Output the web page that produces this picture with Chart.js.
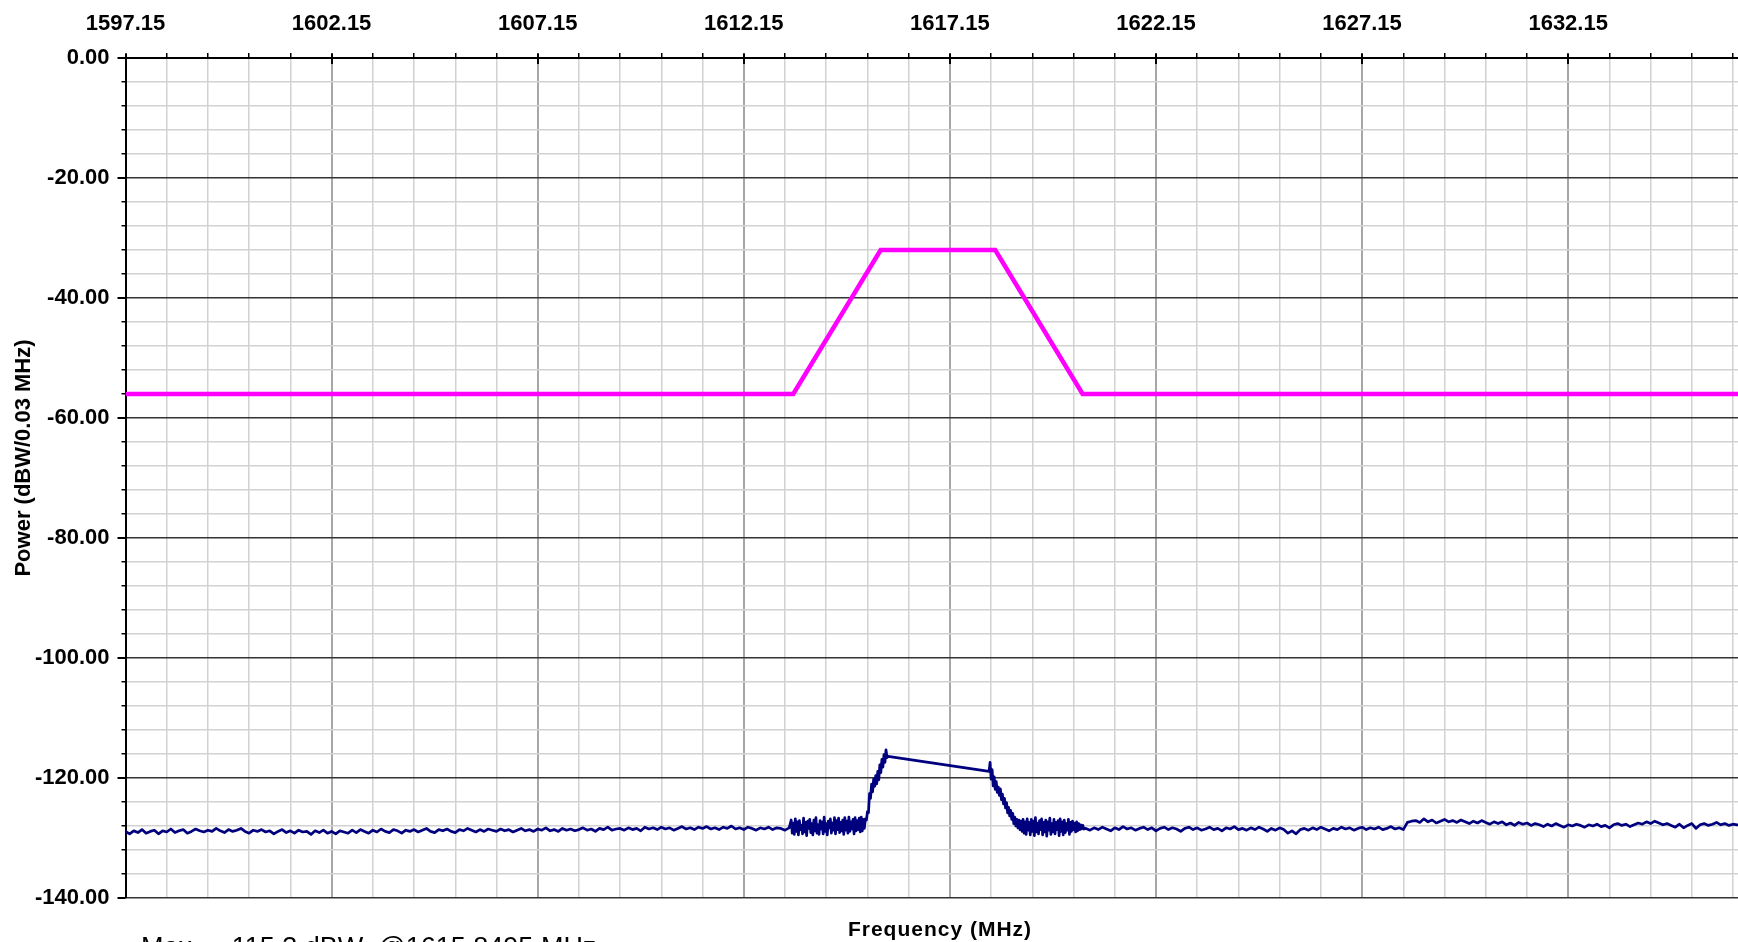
<!DOCTYPE html>
<html>
<head>
<meta charset="utf-8">
<script src="https://cdn.jsdelivr.net/npm/chart.js@4.4.1/dist/chart.umd.min.js"></script>
<style>
  html, body { margin: 0; padding: 0; background: #fff; overflow: hidden; }
  #wrap { width: 1738px; height: 942px; }
</style>
</head>
<body>
<div id="wrap"><canvas id="spectrum" width="1738" height="942"></canvas></div>
<script>
// axis text
const xTickLabels = ['1597.15', '1602.15', '1607.15', '1612.15', '1617.15', '1622.15', '1627.15', '1632.15'];
const yTickLabels = ['0.00', '-20.00', '-40.00', '-60.00', '-80.00', '-100.00', '-120.00', '-140.00'];
const xTitle = 'Frequency (MHz)';
const yTitle = 'Power (dBW/0.03 MHz)';
const peakNote = 'Max = -115.3 dBW  @1615.8495 MHz';
const freqMin = 1597.15;
const freqMax = 1636.27;

// emission mask (magenta)
const maskFreq = [1597.15, 1613.35, 1615.47, 1618.25, 1620.37, 1636.27];
const maskPower = [-56, -56, -32, -32, -56, -56];

const sweepA = { start: 1597.15, step: 0.1 };
const powerA = [
  -128.9, -129.3, -128.8, -129.1, -128.6, -129.2, -128.9, -128.7, -129.3, -128.8,
  -129.0, -128.5, -129.1, -128.8, -128.6, -129.2, -128.9, -128.5, -128.8, -129.0,
  -128.7, -128.9, -128.4, -128.8, -129.1, -128.6, -128.9, -128.7, -128.4, -128.9,
  -129.2, -128.7, -128.9, -128.6, -129.0, -128.8, -129.3, -128.9, -128.6, -129.1,
  -128.8, -129.2, -128.7, -129.0, -128.9, -129.4, -128.8, -129.1, -128.7, -129.2,
  -128.9, -129.3, -128.8, -129.0, -129.2, -128.7, -129.1, -128.6, -128.9, -129.2,
  -128.7, -129.0, -128.5, -128.9, -129.1, -128.6, -128.8, -129.2, -128.7, -128.9,
  -128.6, -129.0, -128.7, -128.4, -128.9, -129.1, -128.6, -128.8, -128.5, -128.9,
  -129.1, -128.6, -128.8, -128.4, -128.7, -129.0, -128.6, -128.9, -128.5, -128.7,
  -128.9, -128.5, -128.8, -128.6, -129.0, -128.7, -128.4, -128.8, -128.6, -128.9,
  -128.5, -128.7, -128.3, -128.8, -128.6, -128.9, -128.4, -128.7, -128.5, -128.8,
  -128.6, -128.3, -128.7, -128.5, -128.9, -128.4, -128.6, -128.2, -128.7, -128.5,
  -128.4, -128.7, -128.3, -128.6, -128.4, -128.8, -128.2, -128.5, -128.3, -128.6,
  -128.2, -128.5, -128.3, -128.7, -128.4, -128.1, -128.5, -128.3, -128.6, -128.2,
  -128.4, -128.1, -128.5, -128.3, -128.6, -128.2, -128.4, -128.0, -128.5, -128.3,
  -128.6, -128.2, -128.4, -128.7, -128.3, -128.5, -128.2, -128.6, -128.3, -128.4,
  -128.7, -128.3
];

const sweepB = { start: 1613.3, step: 0.025 };
const powerB = [
  -127.0, -129.2, -127.5, -129.4, -126.8, -128.9, -127.3, -129.5, -127.1, -128.6,
  -127.9, -129.3, -126.7, -129.0, -127.4, -129.6, -127.2, -128.4, -126.9, -129.1,
  -127.6, -129.5, -127.0, -128.8, -126.6, -129.2, -127.8, -129.4, -127.1, -128.5,
  -127.3, -129.3, -126.5, -128.9, -127.6, -129.5, -127.2, -128.3, -126.8, -129.2,
  -127.5, -128.7, -126.6, -129.3, -127.1, -128.6, -126.7, -129.1, -127.4, -128.8,
  -127.0, -129.4, -126.6, -128.7, -127.2, -129.2, -126.5, -128.9, -127.3, -128.5,
  -126.9, -129.3, -126.6, -128.8, -127.1, -128.6, -126.7, -129.0, -126.5, -128.8,
  -126.9, -128.4, -126.8,
  -127.0, -125.6, -125.8, -122.6, -123.4, -121.0, -122.3, -120.2, -121.4, -119.6,
  -121.0, -118.9, -120.3, -117.8, -119.1, -116.9, -118.2, -116.1, -117.4, -115.3,
  -116.6, -116.4
];

const sweepC = { start: 1618.1, step: 0.025 };
const powerC = [
  -118.9, -117.4, -120.2, -118.6, -121.3, -119.8, -121.9, -120.6, -122.4, -121.5,
  -122.9, -121.8, -123.6, -122.7, -124.3, -123.4, -125.0, -124.1, -125.8, -124.9,
  -126.3, -125.4, -126.9, -125.9, -127.6, -126.5, -128.0, -126.9, -128.3, -127.0,
  -128.6, -127.2, -128.9,
  -126.9, -129.2, -127.3, -129.4, -126.8, -128.7, -127.4, -129.5, -126.9, -128.9,
  -127.2, -129.6, -126.6, -129.0, -127.5, -129.3, -127.1, -128.6, -126.8, -129.5,
  -127.4, -129.0, -127.0, -129.7, -127.3, -128.7, -126.7, -129.4, -127.6, -129.0,
  -126.9, -129.3, -127.4, -128.6, -127.1, -129.6, -126.8, -128.9, -127.3, -129.5,
  -127.0, -129.1, -127.6, -128.7, -126.9, -129.4, -127.4, -128.9, -127.2, -128.6,
  -127.5, -129.0, -127.3, -128.8, -127.6, -128.6, -127.8, -128.5, -127.9, -128.5
];

const sweepD = { start: 1620.45, step: 0.1 };
const powerD = [
  -128.4, -128.7, -128.3, -128.6, -128.2, -128.5, -128.8, -128.3, -128.6, -128.1,
  -128.5, -128.3, -128.7, -128.4, -128.2, -128.6, -128.3, -128.8, -128.4, -128.2,
  -128.6, -128.3, -128.5, -128.9, -128.4, -128.2, -128.6, -128.3, -128.7, -128.5,
  -128.2, -128.6, -128.4, -128.8, -128.3, -128.5, -128.1, -128.6, -128.4, -128.7,
  -128.3, -128.6, -128.2, -128.5, -128.9, -128.4, -128.7, -128.3, -128.6, -129.2,
  -128.8, -129.3, -128.6, -128.4, -128.7, -128.3, -128.6, -128.2, -128.5, -128.8,
  -128.4, -128.6, -128.2, -128.5, -128.3, -128.7, -128.4, -128.2, -128.6, -128.3,
  -128.5, -128.2, -128.6, -128.4, -128.1, -128.5, -128.3, -128.6, -127.4, -127.2,
  -127.1, -127.4, -126.8, -127.3, -127.0, -127.5, -127.2, -126.9, -127.3, -127.1,
  -127.4, -127.0, -127.3, -127.6, -127.2, -127.5, -127.1, -127.4, -127.7, -127.3,
  -127.6, -127.3, -127.8, -127.5, -127.9, -127.4, -127.7, -127.5, -127.9, -127.6,
  -127.8, -128.1, -127.7, -128.0, -127.6, -127.9, -128.2, -127.8, -128.0, -127.7,
  -127.9, -128.2, -127.8, -128.0, -127.7, -128.1, -127.9, -128.3, -127.8, -127.6,
  -127.9, -127.7, -128.1, -127.8, -127.5, -127.7, -127.3, -127.6, -127.2, -127.5,
  -127.8, -127.6, -127.9, -128.2, -127.7, -128.3, -127.9, -127.6, -128.4, -127.8,
  -127.6, -127.9, -127.7, -127.4, -127.8, -127.6, -127.9, -127.7, -127.8
];

const fontFamily = '"Liberation Sans", Arial, Helvetica, sans-serif';

function sweepPoints(sweep, values) {
  return values.map((p, i) => ({ x: +(sweep.start + i * sweep.step).toFixed(4), y: p }));
}

const tracePoints = [
  ...sweepPoints(sweepA, powerA),
  ...sweepPoints(sweepB, powerB),
  ...sweepPoints(sweepC, powerC),
  ...sweepPoints(sweepD, powerD)
];
const maskPoints = maskFreq.map((f, i) => ({ x: f, y: maskPower[i] }));

// 1 MHz minor grid, every 5th one carries a label
const firstTick = parseFloat(xTickLabels[0]);
const xGridFreqs = [];
for (let f = firstTick; f <= freqMax + 1e-6; f += 1) xGridFreqs.push(+f.toFixed(2));

function xLabelFor(v) {
  const hit = xTickLabels.find(l => Math.abs(parseFloat(l) - v) < 1e-6);
  return hit || '';
}
function yLabelFor(v) {
  const hit = yTickLabels.find(l => Math.abs(parseFloat(l) - v) < 1e-6);
  return hit || '';
}

const extras = {
  id: 'extras',
  afterDraw(chart) {
    const { ctx, chartArea, scales } = chart;
    ctx.save();
    // longer major ticks
    ctx.strokeStyle = '#000';
    ctx.lineWidth = 2;
    xTickLabels.forEach(l => {
      const x = Math.round(scales.x.getPixelForValue(parseFloat(l)));
      ctx.beginPath();
      ctx.moveTo(x, chartArea.top - 4);
      ctx.lineTo(x, chartArea.top + 6);
      ctx.stroke();
    });
    yTickLabels.forEach(l => {
      const y = Math.round(scales.y.getPixelForValue(parseFloat(l)));
      ctx.beginPath();
      ctx.moveTo(chartArea.left - 8, y);
      ctx.lineTo(chartArea.left, y);
      ctx.stroke();
    });

    ctx.fillStyle = '#000';
    ctx.font = 'bold 22px ' + fontFamily;
    ctx.textAlign = 'center';
    ctx.textBaseline = 'middle';
    ctx.save();
    ctx.translate(24, 458);
    ctx.rotate(-Math.PI / 2);
    ctx.fillText(yTitle, 0, 0);
    ctx.restore();

    ctx.font = 'bold 21px ' + fontFamily;
    ctx.letterSpacing = '1px';
    ctx.fillText(xTitle, 940, 930);
    ctx.letterSpacing = '0px';

    ctx.font = '27px ' + fontFamily;
    ctx.textAlign = 'left';
    ctx.textBaseline = 'alphabetic';
    ctx.fillText(peakNote, 141, 956);
    ctx.restore();
  }
};

new Chart(document.getElementById('spectrum'), {
  type: 'line',
  data: {
    datasets: [
      {
        label: 'Mask',
        data: maskPoints,
        borderColor: '#ff00ff',
        borderWidth: 4.5,
        pointRadius: 0,
        tension: 0
      },
      {
        label: 'Trace',
        data: tracePoints,
        borderColor: '#00007f',
        borderWidth: 2.7,
        borderJoinStyle: 'round',
        borderCapStyle: 'round',
        pointRadius: 0,
        tension: 0
      }
    ]
  },
  options: {
    responsive: false,
    animation: false,
    events: [],
    layout: { padding: { left: 0, right: 0, top: 0, bottom: 44 } },
    plugins: {
      legend: { display: false },
      tooltip: { enabled: false },
      title: { display: false }
    },
    scales: {
      x: {
        type: 'linear',
        position: 'top',
        min: freqMin,
        max: freqMax,
        afterBuildTicks: scale => { scale.ticks = xGridFreqs.map(v => ({ value: v })); },
        afterFit: scale => {
          scale.height = 58;
          scale.paddingLeft = 0;
          scale.paddingRight = 0;
        },
        border: { color: '#000', width: 2 },
        grid: {
          color: c => (xLabelFor(c.tick.value) ? '#a6a6a6' : '#d2d2d2'),
          lineWidth: c => (xLabelFor(c.tick.value) ? 2 : 1.5),
          tickColor: '#000',
          tickLength: 5,
          tickWidth: 1.5
        },
        ticks: {
          autoSkip: false,
          maxRotation: 0,
          padding: 16,
          color: '#000',
          font: { family: fontFamily, size: 22, weight: 'bold' },
          callback: v => xLabelFor(v)
        }
      },
      y: {
        type: 'linear',
        min: -140,
        max: 0,
        afterFit: scale => { scale.width = 125.5; },
        border: { color: '#000', width: 2 },
        grid: {
          color: c => (yLabelFor(c.tick.value) ? '#333' : '#d2d2d2'),
          lineWidth: 1.5,
          tickColor: '#000',
          tickLength: 4,
          tickWidth: 1.5
        },
        ticks: {
          stepSize: 4,
          autoSkip: false,
          padding: 12,
          color: '#000',
          font: { family: fontFamily, size: 22, weight: 'bold' },
          callback: v => yLabelFor(v)
        }
      }
    }
  },
  plugins: [extras]
});
</script>
</body>
</html>
